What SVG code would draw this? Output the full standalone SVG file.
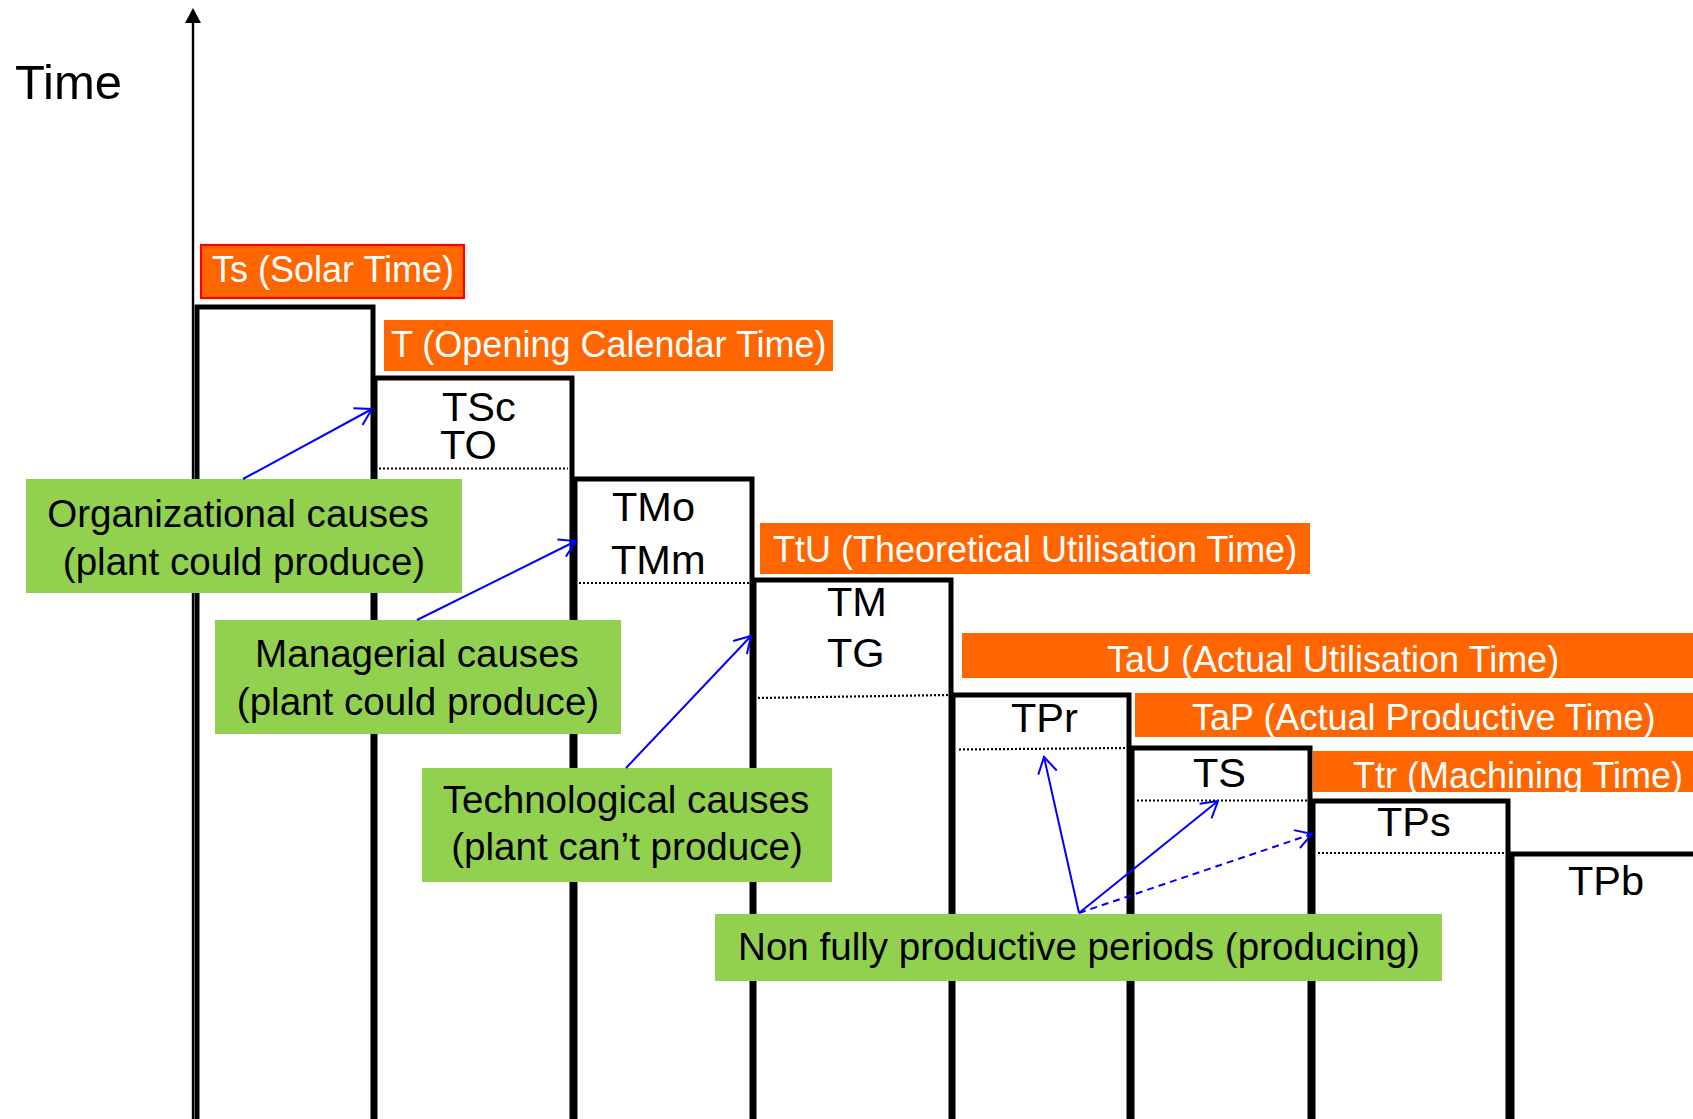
<svg xmlns="http://www.w3.org/2000/svg" width="1693" height="1119" viewBox="0 0 1693 1119">
<style>
text{font-family:"Liberation Sans",Arial,Helvetica,sans-serif}
.step{fill:none;stroke:#000;stroke-width:5;stroke-linejoin:miter}
.dot{stroke:#000;stroke-width:2.2;stroke-dasharray:2 2;fill:none}
.orange{fill:#FF6600}
.otxt{fill:#fff;font-size:36px}
.green{fill:#92D050}
.gtxt{fill:#000;font-size:38.6px;text-anchor:middle}
.btxt{fill:#000;font-size:41.5px}
.conn{stroke:#0000FF;stroke-width:2;fill:none;marker-end:url(#oa)}
</style>
<defs>
<marker id="oa" markerUnits="userSpaceOnUse" markerWidth="22" markerHeight="22" refX="18" refY="10" orient="auto" overflow="visible">
<path d="M2,0.5 L18,10 L2,19.5" fill="none" stroke="#0000FF" stroke-width="2"/>
</marker>
<clipPath id="ttrclip"><rect x="1313" y="751" width="380" height="41"/></clipPath>
</defs>
<rect width="1693" height="1119" fill="#fff"/>

<g id="axis">
<line x1="193" y1="1125" x2="193" y2="20" stroke="#000" stroke-width="2.4"/>
<path d="M193,8 L185,23 L201,23 Z" fill="#000"/>
<text x="15" y="99" style="font-size:49px;fill:#000">Time</text>
</g>

<g id="steps">
<path id="step1" class="step" d="M197,1130 V307 H373 V1130"/>
<path id="step2" class="step" d="M375,1130 V378 H572 V1130"/>
<path id="step3" class="step" d="M575,1130 V479 H752 V1130"/>
<path id="step4" class="step" d="M754,1130 V580 H951 V1130"/>
<path id="step5" class="step" d="M953,1130 V695 H1129 V1130"/>
<path id="step6" class="step" d="M1132,1130 V748 H1310 V1130"/>
<path id="step7" class="step" d="M1313,1130 V801 H1508 V1130"/>
<path id="step8" class="step" d="M1512,1130 V854 H1700"/>
</g>

<g id="dividers">
<line class="dot" x1="379" y1="468.5" x2="568" y2="468.5"/>
<line class="dot" x1="579" y1="583" x2="749" y2="583"/>
<line class="dot" x1="758" y1="698" x2="948" y2="695"/>
<line class="dot" x1="959" y1="749.5" x2="1126" y2="748"/>
<line class="dot" x1="1137" y1="800.5" x2="1307" y2="800.5"/>
<line class="dot" x1="1318" y1="853" x2="1504" y2="853"/>
</g>

<g id="step-labels">
<text class="btxt" x="442" y="421">TSc</text>
<text class="btxt" x="440" y="459">TO</text>
<text class="btxt" x="612" y="521">TMo</text>
<text class="btxt" x="611" y="574">TMm</text>
<text class="btxt" x="827" y="616">TM</text>
<text class="btxt" x="827" y="667">TG</text>
<text class="btxt" x="1011" y="732">TPr</text>
<text class="btxt" x="1193" y="787">TS</text>
<text class="btxt" x="1377" y="836">TPs</text>
<text class="btxt" x="1568" y="895">TPb</text>
</g>

<g id="ts">
<rect x="201" y="245" width="263" height="53" class="orange" stroke="#FF0000" stroke-width="2.2"/>
<text class="otxt" x="212" y="282">Ts (Solar Time)</text>
</g>
<g id="t">
<rect x="384" y="320" width="449" height="51" class="orange"/>
<text class="otxt" x="391" y="357">T (Opening Calendar Time)</text>
</g>
<g id="ttu">
<rect x="760" y="523" width="550" height="51" class="orange"/>
<text class="otxt" x="773" y="562">TtU (Theoretical Utilisation Time)</text>
</g>
<g id="tau">
<rect x="962" y="633" width="731" height="45" class="orange"/>
<text class="otxt" x="1107" y="672">TaU (Actual Utilisation Time)</text>
</g>
<g id="tap">
<rect x="1135" y="693" width="558" height="44" class="orange"/>
<text class="otxt" x="1192" y="730">TaP (Actual Productive Time)</text>
</g>
<g id="ttr">
<rect x="1313" y="751" width="380" height="41" class="orange"/>
<text class="otxt" x="1353" y="788" clip-path="url(#ttrclip)">Ttr (Machining Time)</text>
</g>

<g id="organizational">
<rect x="26" y="479" width="436" height="114" class="green"/>
<text class="gtxt" x="238" y="527">Organizational causes</text>
<text class="gtxt" x="244" y="575">(plant could produce)</text>
</g>
<g id="managerial">
<rect x="215" y="620" width="406" height="114" class="green"/>
<text class="gtxt" x="417" y="667">Managerial causes</text>
<text class="gtxt" x="418" y="715">(plant could produce)</text>
</g>
<g id="technological">
<rect x="422" y="768" width="410" height="114" class="green"/>
<text class="gtxt" x="626" y="813">Technological causes</text>
<text class="gtxt" x="627" y="860">(plant can’t produce)</text>
</g>
<g id="nonfully">
<rect x="715" y="914" width="727" height="67" class="green"/>
<text class="gtxt" x="1079" y="960">Non fully productive periods (producing)</text>
</g>

<g id="connectors">
<line class="conn" x1="243" y1="479" x2="372" y2="409"/>
<line class="conn" x1="417" y1="620" x2="576" y2="541"/>
<line class="conn" x1="626" y1="768" x2="751" y2="636"/>
<line class="conn" x1="1079" y1="913" x2="1044" y2="757"/>
<line class="conn" x1="1079" y1="913" x2="1218" y2="801"/>
<line class="conn" x1="1079" y1="913" x2="1312" y2="834" stroke-dasharray="7 5"/>
</g>
</svg>
